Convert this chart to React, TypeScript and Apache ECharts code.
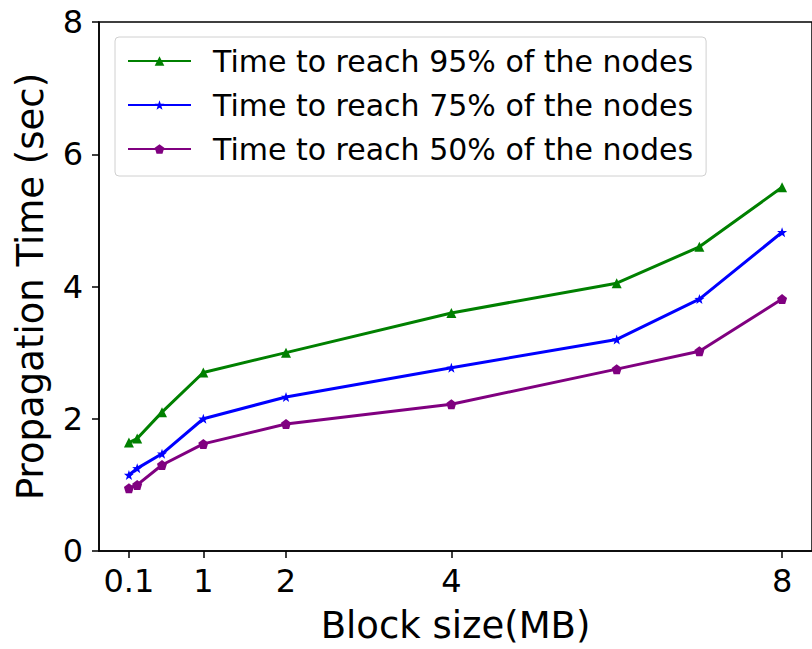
import React, { useEffect, useRef } from "react";
import * as echarts from "echarts";

const blockSizes = [0.1, 0.2, 0.5, 1, 2, 4, 6, 7, 8];
const t95 = [1.64, 1.7, 2.1, 2.7, 3.0, 3.6, 4.05, 4.6, 5.5];
const t75 = [1.15, 1.25, 1.47, 2.0, 2.33, 2.77, 3.2, 3.81, 4.82];
const t50 = [0.95, 1.0, 1.3, 1.62, 1.92, 2.22, 2.75, 3.02, 3.81];
const xTicks = [0.1, 1, 2, 4, 8];
const seriesNames = [
  "Time to reach 95% of the nodes",
  "Time to reach 75% of the nodes",
  "Time to reach 50% of the nodes",
];

const FONT = "DejaVu Sans";

export default function App() {
  const ref = useRef<HTMLDivElement>(null);
  useEffect(() => {
    if (!ref.current) return;
    const chart = echarts.init(ref.current, null, { renderer: "svg" });
    const mk = (ys: number[]) => blockSizes.map((x, i) => [x, ys[i]]);
    const common = {
      type: "line",
      lineStyle: { width: 3 },
      symbolSize: 10,
      showSymbol: true,
      emphasis: { disabled: true },
    };
    chart.setOption({
      animation: false,
      textStyle: { fontFamily: FONT },
      grid: { left: 99, top: 22, right: -1, bottom: 96, show: true, borderColor: "#000", borderWidth: 1.5 },
      legend: {
        left: 115,
        top: 37,
        orient: "vertical",
        itemWidth: 63,
        itemHeight: 12,
        itemGap: 14,
        padding: [9, 13, 12, 12],
        borderColor: "#d0d0d0",
        borderWidth: 1,
        borderRadius: 4,
        backgroundColor: "#fff",
        textStyle: { fontFamily: FONT, fontSize: 30, color: "#000", padding: [0, 0, 0, 17] },
        data: seriesNames,
      },
      xAxis: {
        type: "value",
        min: -0.262,
        max: 8.362,
        name: "Block size(MB)",
        nameLocation: "middle",
        nameGap: 56,
        nameTextStyle: { fontFamily: FONT, fontSize: 37, color: "#000" },
        splitLine: { show: false },
        axisLine: { show: true, onZero: false, lineStyle: { color: "#000", width: 1.5 } },
        axisTick: { show: true, length: 7, lineStyle: { color: "#000", width: 1.5 }, customValues: xTicks },
        axisLabel: { fontFamily: FONT, fontSize: 32, color: "#000", margin: 14, customValues: xTicks, formatter: (v: number) => String(v) },
      },
      yAxis: {
        type: "value",
        min: 0,
        max: 8,
        interval: 2,
        name: "Propagation Time (sec)",
        nameLocation: "middle",
        nameGap: 50,
        nameTextStyle: { fontFamily: FONT, fontSize: 37, color: "#000" },
        splitLine: { show: false },
        axisLine: { show: true, onZero: false, lineStyle: { color: "#000", width: 1.5 } },
        axisTick: { show: true, length: 7, lineStyle: { color: "#000", width: 1.5 } },
        axisLabel: { fontFamily: FONT, fontSize: 32, color: "#000", margin: 16 },
      },
      series: [
        { ...common, name: seriesNames[0], data: mk(t95), color: "#008000", symbol: "triangle" },
        {
          ...common,
          name: seriesNames[1],
          data: mk(t75),
          color: "#0000ff",
          symbol: "path://M0,-10 L2.4,-3.2 L9.5,-3.1 L3.8,1.2 L5.9,8.1 L0,4 L-5.9,8.1 L-3.8,1.2 L-9.5,-3.1 L-2.4,-3.2 Z",
        },
        {
          ...common,
          name: seriesNames[2],
          data: mk(t50),
          color: "#800080",
          symbol: "path://M0,-10 L9.5,-3.1 L5.9,8.1 L-5.9,8.1 L-9.5,-3.1 Z",
        },
      ],
    });
    return () => chart.dispose();
  }, []);
  return <div ref={ref} style={{ position: "absolute", left: 0, top: 0, width: 812, height: 649, background: "#fff" }} />;
}
